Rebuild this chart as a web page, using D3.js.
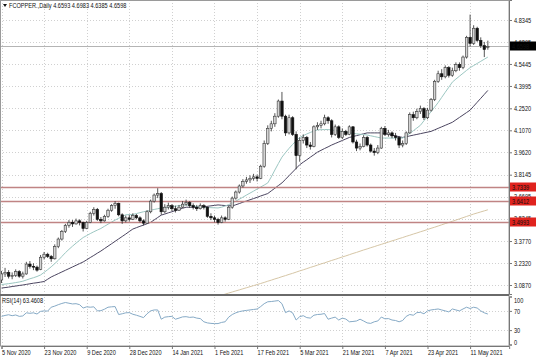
<!DOCTYPE html>
<html><head><meta charset="utf-8">
<script src="https://cdn.jsdelivr.net/npm/d3@7/dist/d3.min.js"></script>
<style>
html,body{margin:0;padding:0;background:#fff;}
svg{display:block;}
text{font-family:"Liberation Sans",Arial,sans-serif;font-size:7px;fill:#111;}
</style></head>
<body>
<svg id="chart" width="536" height="357"></svg>
<script>
// ---------------- DATA ----------------
const symbolTitle = "FCOPPER.,Daily";
const lastQuote = ["4.6593","4.6983","4.6385","4.6598"];
const rsiTitle = "RSI(14) 63.4608";

const opens = [3.120,3.160,3.170,3.145,3.150,3.175,3.145,3.160,3.225,3.210,3.205,3.190,3.270,3.290,3.275,3.260,3.340,3.390,3.440,3.480,
3.500,3.490,3.510,3.500,3.460,3.500,3.560,3.585,3.520,3.510,3.540,3.580,3.610,3.625,3.550,3.510,3.530,3.520,3.545,3.530,
3.510,3.495,3.570,3.640,3.680,3.690,3.570,3.600,3.610,3.590,3.580,3.600,3.620,3.630,3.610,3.600,3.590,3.610,3.600,3.540,
3.530,3.520,3.500,3.530,3.520,3.600,3.660,3.700,3.740,3.770,3.780,3.790,3.800,3.790,3.870,4.020,4.120,4.150,4.200,4.300,
4.200,4.090,4.190,4.080,3.940,4.040,4.060,4.010,4.000,4.130,4.140,4.150,4.190,4.170,4.080,4.130,4.060,4.100,4.080,4.130,
4.030,3.990,4.000,4.060,4.010,3.970,3.960,3.990,4.120,4.080,4.090,4.070,4.060,4.010,4.020,4.090,4.210,4.190,4.230,4.250,
4.190,4.240,4.310,4.430,4.480,4.460,4.520,4.470,4.500,4.540,4.520,4.590,4.720,4.680,4.780,4.700,4.665,4.6593];
const highs = [3.180,3.200,3.185,3.170,3.190,3.185,3.175,3.240,3.245,3.230,3.215,3.285,3.305,3.300,3.285,3.355,3.400,3.450,3.490,3.515,
3.515,3.525,3.520,3.505,3.510,3.570,3.600,3.595,3.535,3.550,3.590,3.620,3.640,3.630,3.560,3.545,3.550,3.560,3.555,3.540,
3.520,3.580,3.650,3.690,3.725,3.700,3.620,3.630,3.620,3.610,3.615,3.640,3.650,3.640,3.625,3.615,3.625,3.620,3.605,3.560,
3.545,3.530,3.545,3.540,3.610,3.670,3.710,3.750,3.785,3.800,3.810,3.820,3.815,3.880,4.040,4.140,4.170,4.220,4.310,4.360,
4.210,4.210,4.200,4.100,4.060,4.080,4.070,4.030,4.140,4.160,4.170,4.210,4.200,4.180,4.145,4.140,4.120,4.110,4.140,4.135,
4.045,4.020,4.075,4.070,4.020,3.990,4.010,4.130,4.135,4.110,4.100,4.090,4.070,4.040,4.100,4.225,4.230,4.250,4.270,4.260,
4.255,4.320,4.440,4.500,4.510,4.535,4.530,4.520,4.555,4.555,4.600,4.730,4.870,4.800,4.790,4.720,4.690,4.6983];
const lows = [3.100,3.140,3.130,3.125,3.140,3.135,3.130,3.155,3.195,3.185,3.175,3.185,3.255,3.265,3.240,3.255,3.330,3.380,3.430,3.465,
3.470,3.485,3.480,3.440,3.455,3.495,3.545,3.510,3.495,3.505,3.530,3.570,3.590,3.540,3.490,3.500,3.505,3.515,3.520,3.500,
3.480,3.490,3.560,3.630,3.660,3.550,3.560,3.585,3.575,3.565,3.575,3.595,3.610,3.595,3.585,3.575,3.585,3.585,3.530,3.515,
3.500,3.485,3.495,3.505,3.515,3.590,3.650,3.690,3.730,3.755,3.760,3.775,3.770,3.785,3.860,4.010,4.100,4.130,4.190,4.180,
4.070,4.080,4.070,3.850,3.900,4.020,3.990,3.980,3.995,4.110,4.120,4.140,4.150,4.060,4.070,4.050,4.050,4.070,4.075,4.020,
3.970,3.975,3.995,4.000,3.960,3.940,3.950,3.985,4.070,4.065,4.055,4.040,3.990,3.995,4.010,4.085,4.170,4.180,4.215,4.175,
4.180,4.230,4.300,4.420,4.440,4.450,4.455,4.460,4.490,4.500,4.510,4.580,4.660,4.670,4.690,4.650,4.590,4.6385];
const closes = [3.160,3.170,3.145,3.150,3.175,3.145,3.160,3.225,3.210,3.205,3.185,3.270,3.290,3.275,3.260,3.340,3.390,3.440,3.480,3.500,
3.490,3.510,3.500,3.460,3.500,3.560,3.585,3.520,3.510,3.540,3.580,3.610,3.625,3.550,3.510,3.530,3.520,3.545,3.530,3.510,
3.495,3.570,3.640,3.680,3.690,3.570,3.600,3.610,3.590,3.580,3.600,3.620,3.630,3.610,3.600,3.590,3.610,3.600,3.540,3.530,
3.520,3.500,3.530,3.520,3.600,3.660,3.700,3.740,3.770,3.780,3.790,3.800,3.790,3.870,4.020,4.120,4.150,4.200,4.300,4.200,
4.090,4.190,4.080,3.940,4.040,4.060,4.010,4.000,4.130,4.140,4.150,4.190,4.170,4.080,4.130,4.060,4.100,4.080,4.130,4.030,
3.990,4.000,4.060,4.010,3.970,3.960,3.990,4.120,4.080,4.090,4.070,4.060,4.010,4.020,4.090,4.210,4.190,4.230,4.250,4.190,
4.240,4.310,4.430,4.480,4.460,4.520,4.470,4.500,4.540,4.520,4.590,4.720,4.680,4.780,4.700,4.665,4.640,4.6598];

// fast moving average (light teal line)
const maFast = [3.090,3.093,3.096,3.099,3.103,3.107,3.112,3.120,3.128,3.135,3.143,3.153,3.170,3.188,3.207,3.228,3.250,3.275,3.300,3.322,
3.343,3.363,3.382,3.400,3.413,3.426,3.438,3.449,3.460,3.474,3.488,3.502,3.515,3.527,3.539,3.550,3.551,3.552,3.558,3.564,
3.570,3.575,3.580,3.585,3.590,3.595,3.598,3.601,3.604,3.607,3.610,3.613,3.615,3.612,3.608,3.604,3.600,3.599,3.598,3.597,
3.596,3.595,3.600,3.608,3.617,3.627,3.640,3.653,3.666,3.680,3.693,3.706,3.720,3.733,3.746,3.760,3.800,3.845,3.888,3.930,
3.960,3.988,4.014,4.038,4.060,4.072,4.083,4.093,4.102,4.110,4.111,4.112,4.112,4.110,4.106,4.102,4.098,4.094,4.090,4.087,
4.084,4.081,4.079,4.076,4.071,4.066,4.061,4.056,4.056,4.056,4.056,4.056,4.056,4.056,4.070,4.087,4.104,4.122,4.140,4.170,
4.200,4.230,4.260,4.290,4.324,4.358,4.391,4.425,4.445,4.464,4.483,4.502,4.520,4.534,4.548,4.562,4.576,4.590];
// slow moving average (dark slate line)
const maSlow = [3.067,3.070,3.073,3.077,3.080,3.084,3.087,3.091,3.095,3.099,3.102,3.106,3.110,3.125,3.140,3.151,3.162,3.173,3.184,3.195,
3.206,3.217,3.228,3.239,3.253,3.268,3.282,3.297,3.311,3.327,3.343,3.359,3.375,3.391,3.407,3.423,3.440,3.456,3.465,3.474,
3.482,3.491,3.500,3.516,3.532,3.548,3.555,3.563,3.570,3.578,3.585,3.593,3.600,3.600,3.600,3.600,3.600,3.603,3.606,3.609,
3.612,3.615,3.613,3.611,3.610,3.608,3.616,3.624,3.633,3.641,3.649,3.657,3.665,3.674,3.682,3.690,3.708,3.725,3.743,3.760,
3.784,3.808,3.832,3.856,3.880,3.897,3.913,3.930,3.946,3.963,3.975,3.987,3.998,4.010,4.020,4.030,4.040,4.050,4.060,4.066,
4.072,4.078,4.084,4.090,4.090,4.090,4.090,4.090,4.085,4.080,4.075,4.070,4.065,4.060,4.065,4.070,4.075,4.080,4.085,4.090,
4.095,4.100,4.110,4.120,4.130,4.140,4.150,4.160,4.176,4.192,4.208,4.224,4.240,4.266,4.292,4.318,4.344,4.370];
// long moving average (tan line), values from bar 60 onward
const maLongStart = 60;
const maLong = [3.005,3.012,3.019,3.027,3.034,3.041,3.048,3.055,3.062,3.069,3.076,3.083,3.090,3.097,3.104,3.112,3.119,3.127,3.134,3.142,
3.149,3.157,3.164,3.172,3.180,3.187,3.195,3.203,3.210,3.218,3.226,3.233,3.241,3.249,3.256,3.264,3.272,3.279,3.287,3.295,
3.302,3.310,3.318,3.325,3.333,3.340,3.348,3.355,3.363,3.370,3.378,3.385,3.393,3.400,3.408,3.415,3.423,3.430,3.438,3.445,
3.453,3.461,3.468,3.476,3.484,3.492,3.499,3.507,3.515,3.523,3.531,3.539,3.547,3.555,3.562,3.569,3.576,3.583];

const rsi = [58.6,60.5,62.0,60.0,61.5,58.6,59.5,66.0,65.0,66.0,63.5,69.0,70.0,69.5,77.7,80.0,83.0,85.5,87.5,86.0,
84.5,85.0,83.0,76.0,78.5,77.7,78.5,70.0,70.5,73.5,77.7,78.5,79.0,62.5,64.0,66.0,66.4,63.0,61.0,58.6,
56.0,64.0,70.0,72.0,72.0,52.7,57.0,58.0,58.6,52.7,55.0,57.5,58.0,56.5,57.2,55.0,54.0,47.3,45.0,44.0,
43.5,43.6,46.0,47.3,57.0,62.5,66.0,68.5,70.0,71.0,72.0,73.0,73.9,79.0,85.0,89.0,89.5,90.5,91.5,85.0,
66.4,70.0,66.0,51.0,58.0,60.0,56.0,55.0,61.0,62.5,63.0,64.5,52.7,55.0,57.0,51.0,55.0,53.0,47.3,48.0,
49.0,52.7,49.0,45.0,44.0,47.3,49.0,57.2,53.5,54.0,51.0,50.0,47.3,50.0,58.6,62.5,61.0,66.4,67.0,64.0,
70.0,72.0,73.0,74.0,72.0,70.0,68.0,74.0,72.0,70.0,74.0,77.7,75.0,77.7,76.0,70.0,66.0,63.46];

const priceTicks = [4.8345,4.6895,4.5445,4.3995,4.2520,4.1070,3.9620,3.8145,3.6695,3.5245,3.3770,3.2320,3.0870];
const levelValues = [3.7339,3.6412,3.4993];
const levelLabels = ["3.7339","3.6412","3.4993"];
const currentPrice = 4.6598;
const rsiTicks = [100,70,30,0];
const rsiLevels = [70,30];
const dateTickIndex = [0,12,24,36,48,60,72,84,96,108,120,132];
const dateLabels = ["5 Nov 2020","23 Nov 2020","9 Dec 2020","28 Dec 2020","14 Jan 2021","1 Feb 2021",
  "17 Feb 2021","5 Mar 2021","21 Mar 2021","7 Apr 2021","23 Apr 2021","11 May 2021"];

// ---------------- LAYOUT ----------------
const svg = d3.select("#chart");
const plotR = 509, mainTop = 0, mainBot = 294, rsiTop = 296, rsiBot = 346;
const bars = closes.map((c,i)=>({i, o:opens[i], h:highs[i], l:lows[i], c}));

const x = d3.scaleLinear().domain([0,143]).range([1.5, 1.5+143*3.55]);
const y = d3.scaleLinear().domain([3.0277, 4.9663]).range([mainBot, mainTop]);
const yr = d3.scaleLinear().domain([0,100]).range([344.5, 296.5]);

function squeeze(sel, k){
  sel.each(function(){
    const l = this.getComputedTextLength();
    if(l>0){ this.setAttribute("textLength", (l*k).toFixed(2)); this.setAttribute("lengthAdjust","spacingAndGlyphs"); }
  });
}
const K = 0.8;

const defs = svg.append("defs");
defs.append("clipPath").attr("id","clipMain").append("rect").attr("x",0).attr("y",mainTop).attr("width",plotR).attr("height",mainBot-mainTop);
defs.append("clipPath").attr("id","clipRsi").append("rect").attr("x",0).attr("y",rsiTop).attr("width",plotR).attr("height",rsiBot-rsiTop);

// grid
const grid = svg.append("g").attr("stroke","#c4c4c4").attr("stroke-width",0.8).attr("stroke-dasharray","1,2");
grid.selectAll(".hg").data(priceTicks).join("line")
  .attr("x1",0).attr("x2",plotR).attr("y1",d=>Math.round(y(d))+0.5).attr("y2",d=>Math.round(y(d))+0.5);
grid.selectAll(".vg").data(dateTickIndex).join("line")
  .attr("x1",d=>Math.round(x(d))+0.5).attr("x2",d=>Math.round(x(d))+0.5).attr("y1",mainTop).attr("y2",rsiBot);
grid.selectAll(".rg").data(rsiLevels).join("line")
  .attr("x1",0).attr("x2",plotR).attr("y1",d=>Math.round(yr(d))+0.5).attr("y2",d=>Math.round(yr(d))+0.5);

const main = svg.append("g").attr("clip-path","url(#clipMain)");

// current price line
main.append("line").attr("x1",0).attr("x2",plotR)
  .attr("y1",Math.round(y(currentPrice))+0.5).attr("y2",Math.round(y(currentPrice))+0.5)
  .attr("stroke","#b4b4b4").attr("stroke-width",1);

// moving averages
const lineGen = (arr, off) => d3.line().x((d,i)=>x(i+off)).y(d=>y(d))(arr);
main.append("path").attr("d",lineGen(maLong,maLongStart)).attr("fill","none").attr("stroke","#d6c6a6").attr("stroke-width",1);
main.append("path").attr("d",lineGen(maSlow,0)).attr("fill","none").attr("stroke","#4b4560").attr("stroke-width",1);
main.append("path").attr("d",lineGen(maFast,0)).attr("fill","none").attr("stroke","#9cc7c2").attr("stroke-width",1);

// horizontal levels
main.selectAll(".lvl").data(levelValues).join("line")
  .attr("x1",0).attr("x2",plotR).attr("y1",d=>Math.round(y(d))+0.5).attr("y2",d=>Math.round(y(d))+0.5)
  .attr("stroke","#c08484").attr("stroke-width",1.3);

// candles
const cg = main.append("g");
cg.selectAll(".wick").data(bars).join("line")
  .attr("x1",d=>x(d.i)).attr("x2",d=>x(d.i)).attr("y1",d=>y(d.h)).attr("y2",d=>y(d.l))
  .attr("stroke","#2a2a2a").attr("stroke-width",0.8);
cg.selectAll(".body").data(bars).join("rect")
  .attr("x",d=>x(d.i)-1.25).attr("width",2.5)
  .attr("y",d=>y(Math.max(d.o,d.c)))
  .attr("height",d=>Math.max(0.8, Math.abs(y(d.o)-y(d.c))))
  .attr("fill",d=>d.c>=d.o ? "#d4d4d4" : "#111")
  .attr("stroke",d=>d.c>=d.o ? "#3a3a3a" : "#111").attr("stroke-width",0.6);

// RSI
const rg = svg.append("g").attr("clip-path","url(#clipRsi)");
rg.append("path").attr("d", d3.line().x((d,i)=>x(i)).y(d=>yr(d))(rsi))
  .attr("fill","none").attr("stroke","#86aac6").attr("stroke-width",1);

// frames
svg.append("rect").attr("x",0.5).attr("y",0.5).attr("width",plotR-0.5).attr("height",rsiBot-0.5)
  .attr("fill","none").attr("stroke","#9a9a9a").attr("stroke-width",1);
svg.append("rect").attr("x",0).attr("y",mainBot).attr("width",plotR).attr("height",2).attr("fill","#6a6a6a");

// price axis
const ay = svg.append("g").attr("transform",`translate(${plotR},0)`)
  .call(d3.axisRight(y).tickValues(priceTicks).tickFormat(d3.format(".4f")).tickSize(3).tickPadding(2));
ay.select(".domain").attr("stroke","#777");
ay.selectAll(".tick line").attr("stroke","#777");
ay.selectAll("text").attr("font-size",7).attr("font-family","Liberation Sans, Arial, sans-serif").attr("fill","#222").call(squeeze,K);

// RSI axis
const ar = svg.append("g").attr("transform",`translate(${plotR},0)`)
  .call(d3.axisRight(yr).tickValues(rsiTicks).tickFormat(d3.format("d")).tickSize(3).tickPadding(2));
ar.select(".domain").attr("stroke","#777");
ar.selectAll(".tick line").attr("stroke","#777");
ar.selectAll(".tick").filter(d=>d===100).select("text").attr("dy","0.9em");
ar.selectAll(".tick").filter(d=>d===0).select("text").attr("dy","-0.05em");
ar.selectAll("text").attr("font-size",7).attr("font-family","Liberation Sans, Arial, sans-serif").attr("fill","#222").call(squeeze,K);

// date axis
const ax = svg.append("g").attr("transform",`translate(0,${rsiBot})`)
  .call(d3.axisBottom(x).tickValues(dateTickIndex).tickFormat((d,i)=>dateLabels[i]).tickSize(3).tickPadding(1));
ax.select(".domain").attr("stroke","#777");
ax.selectAll(".tick line").attr("stroke","#777");
ax.selectAll("text").attr("text-anchor","start").attr("x",0)
  .attr("font-size",7).attr("font-family","Liberation Sans, Arial, sans-serif").attr("fill","#222").call(squeeze,K);

// level labels on axis
const ll = svg.append("g");
levelValues.forEach((v,k)=>{
  const yy = Math.round(y(v));
  ll.append("rect").attr("x",plotR+1).attr("y",yy-4.5).attr("width",536-plotR-1).attr("height",9).attr("fill","#e0231e");
  ll.append("text").attr("x",plotR+3).attr("y",yy+2.5).text(levelLabels[k]).attr("fill","#fff").call(squeeze,K);
});
{
  const yy = Math.round(y(currentPrice));
  ll.append("rect").attr("x",plotR+1).attr("y",yy-4.5).attr("width",536-plotR-1).attr("height",9).attr("fill","#000");
  ll.append("text").attr("x",plotR+3).attr("y",yy+2.5).text(currentPrice.toFixed(4)).attr("fill","#fff").call(squeeze,K);
}

// titles
svg.append("path").attr("d","M3,4 L7,4 L5,7 Z").attr("fill","#111");
svg.append("text").attr("x",9).attr("y",8).text(symbolTitle+"  "+lastQuote.join(" ")).call(squeeze,K);
svg.append("text").attr("x",2).attr("y",303).text(rsiTitle).call(squeeze,K);
</script>
</body></html>
